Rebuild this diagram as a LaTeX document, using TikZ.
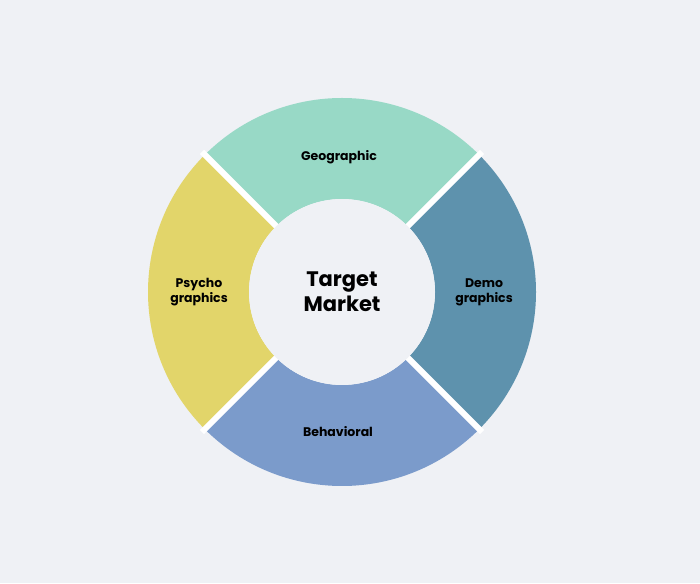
\documentclass[tikz,border=0pt]{standalone}
\usepackage{fontspec}
\setmainfont{Poppins}
\usepackage{tikz}
\usetikzlibrary{positioning}
\definecolor{bgc}{HTML}{EFF1F5}
\definecolor{geoc}{HTML}{98D9C6}
\definecolor{democ}{HTML}{5E92AD}
\definecolor{behc}{HTML}{7B9BCB}
\definecolor{psyc}{HTML}{E2D56A}
\begin{document}
\begin{tikzpicture}[
    x=1pt, y=1pt,
    lbl/.style={font=\bfseries\fontsize{12.5}{15}\selectfont, align=center, text=black},
    sector/.style={draw=none},
  ]
    \fill[bgc] (0,0) rectangle (700,583);
    \useasboundingbox (0,0) rectangle (700,583);
    \coordinate (c) at (342,291);
    % Ring sectors
    \foreach \a/\col in {45/geoc, -45/democ, -135/behc, 135/psyc}{
      \fill[\col] ([shift={(\a:194)}]c) arc[start angle=\a, end angle=\a+90, radius=194]
        -- ([shift={(\a+90:93)}]c) arc[start angle=\a+90, end angle=\a, radius=93] -- cycle;
    }
    % Gaps
    \foreach \a in {45,135,225,315}{
      \draw[white, line width=6] ([shift={(\a:90)}]c) -- ([shift={(\a:198)}]c);
    }
    \fill[bgc] (c) circle (93);
    % Labels
    \node[font=\bfseries\fontsize{21}{25}\selectfont, align=center] (tm) at (c) {Target\\Market};
    \node[lbl] (geo) at (339,426) {Geographic};
    \node[lbl] (demo) at (484,291) {Demo\\graphics};
    \node[lbl] (beh) at (338,151) {Behavioral};
    \node[lbl] (psy) at (199,291) {Psycho\\graphics};
  \end{tikzpicture}
\end{document}
